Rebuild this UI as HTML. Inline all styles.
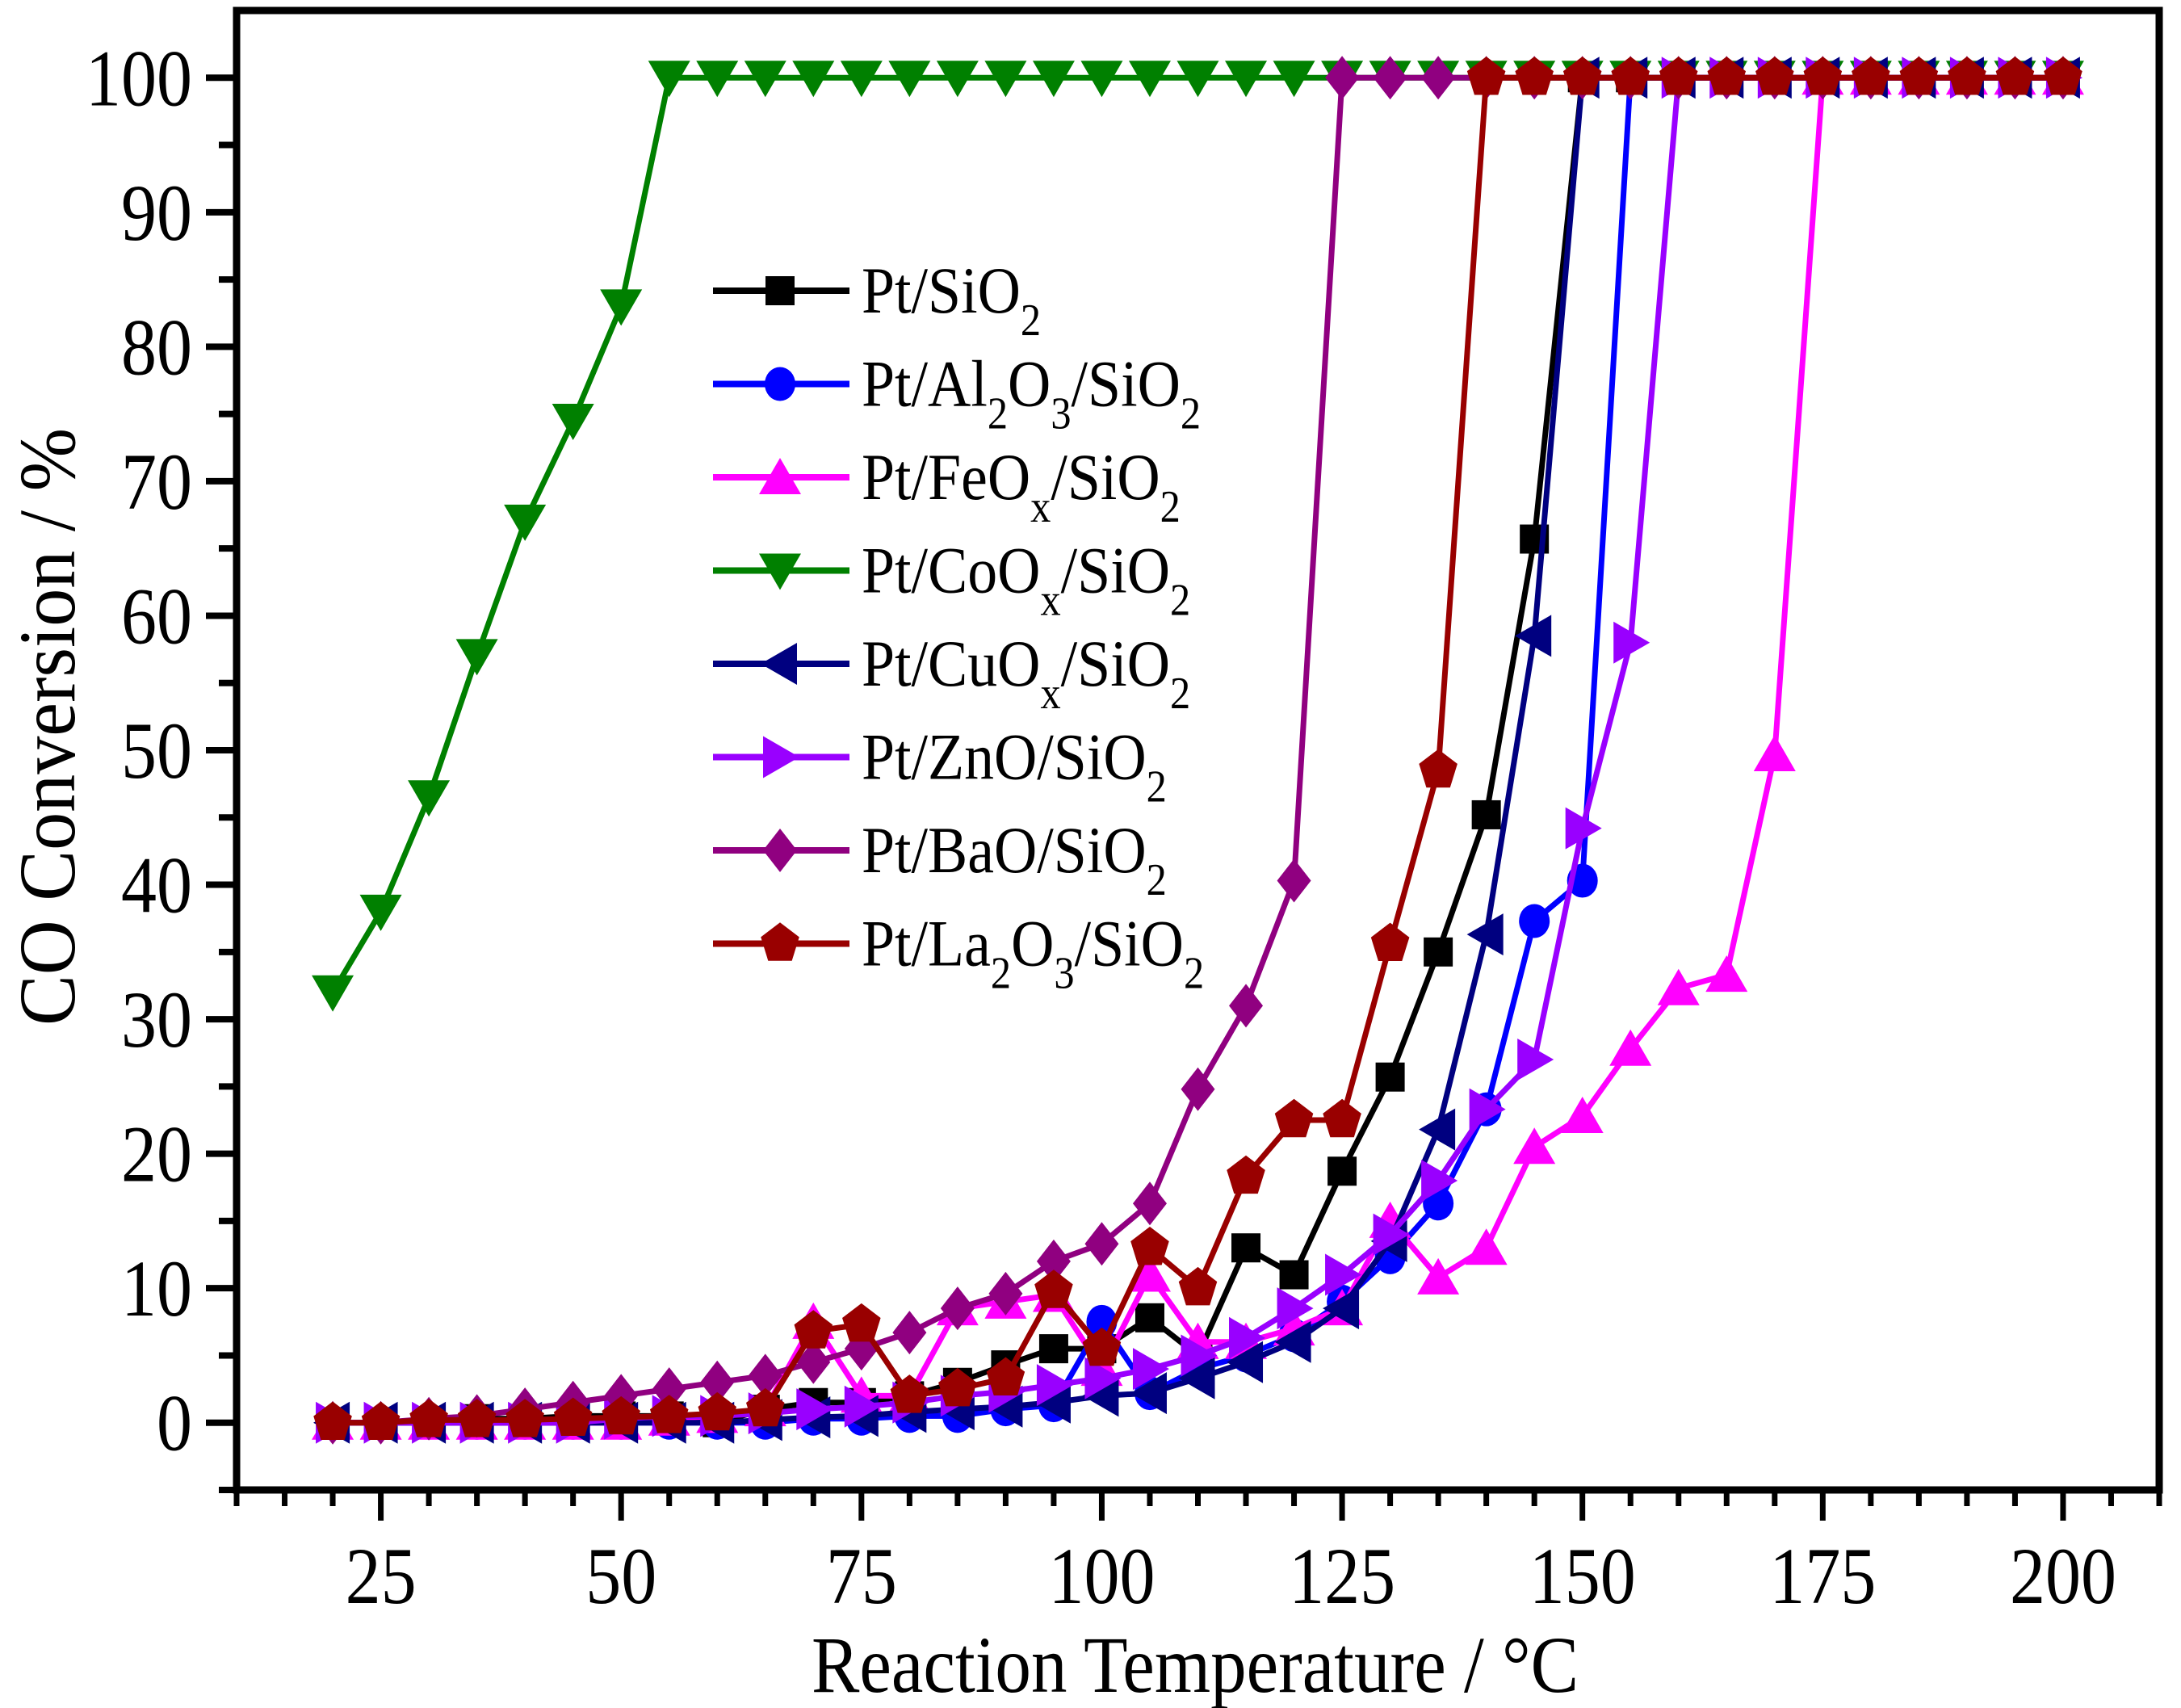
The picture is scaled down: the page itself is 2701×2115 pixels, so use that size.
<!DOCTYPE html>
<html><head><meta charset="utf-8"><style>
html,body{margin:0;padding:0;background:#fff}
svg{display:block}
text{font-family:"Liberation Serif",serif;fill:#000}
</style></head><body>
<svg id="chart" width="2701" height="2115" viewBox="0 0 2701 2115" xmlns="http://www.w3.org/2000/svg">
<g id="plot"></g>
<g id="axes"></g>
<g id="legend"></g>
</svg>
<script>
const temps = [20,25,30,35,40,45,50,55,60,65,70,75,80,85,90,95,100,105,110,115,120,125,130,135,140,145,150,155,160,165,170,175,180,185,190,195,200];
const siO2 =  [0,0,0,0.3,0.3,0.5,0.5,0.5,0,1,1.5,1.5,2,3,4.3,5.5,5.5,7.8,5,13,11,18.7,25.7,35,45.2,65.7,100,100,100,100,100,100,100,100,100,100,100];
const al2o3 = [0,0,0,0,0,0,0,0,0,0,0.3,0.3,0.5,0.5,1,1.3,7.5,2.2,4,5,6.5,9,12.3,16.3,23.3,37.3,40.3,100,100,100,100,100,100,100,100,100,100];
const feOx =  [0,0,0,0,0,0,0,0.3,0.5,1,7.5,2,2,8.5,9,9.5,4,11,6,6,7,8.5,15,10.8,13,20.5,22.8,27.8,32.3,33.3,49.7,100,100,100,100,100,100];
const coOx =  [32,38,46.5,57,67,74.5,83,100,100,100,100,100,100,100,100,100,100,100,100,100,100,100,100,100,100,100,100,100,100,100,100,100,100,100,100,100,100];
const cuOx =  [0,0,0,0,0,0,0,0,0,0.2,0.4,0.5,0.8,1,1.2,1.5,2,2.2,3.3,4.5,6,8.5,13.5,21.8,36.3,58.5,100,100,100,100,100,100,100,100,100,100,100];
const znO =   [0,0,0,0,0,0,0.3,0.5,0.5,0.7,1,1.2,1.5,2,2.3,2.8,3.3,4,5,6.3,8.5,11,14,18,23.3,27,44.2,58,100,100,100,100,100,100,100,100,100];
const baO =   [0,0,0.3,0.5,1,1.5,2,2.5,3,3.5,4.5,5.5,6.7,8.5,9.6,12,13.3,16.3,24.8,31,40.3,100,100,100,100,100,100,100,100,100,100,100,100,100,100,100,100];
const la2o3 = [0,0,0.2,0.2,0.2,0.3,0.4,0.5,0.7,1,6.8,7.3,2,2.5,3.3,9.8,5.5,13,10,18.3,22.5,22.5,35.6,48.5,100,100,100,100,100,100,100,100,100,100,100,100,100];
const xTicks = [25,50,75,100,125,150,175,200];
const yTicks = [0,10,20,30,40,50,60,70,80,90,100];

const NS="http://www.w3.org/2000/svg";
const L=293,R=2674,T=13,B=1845;
const X0=10,X1=210,Y0=-5,Y1=105;
const sx=v=>L+(v-X0)/(X1-X0)*(R-L);
const sy=v=>B-(v-Y0)/(Y1-Y0)*(B-T);
function mk(tag,attrs,parent){const e=document.createElementNS(NS,tag);for(const k in attrs)e.setAttribute(k,attrs[k]);parent.appendChild(e);return e;}

const series=[
 {name:"pt-sio2",vals:siO2,color:"#000000",shape:"square"},
 {name:"pt-al2o3-sio2",vals:al2o3,color:"#0000ff",shape:"circle"},
 {name:"pt-feox-sio2",vals:feOx,color:"#ff00ff",shape:"up"},
 {name:"pt-coox-sio2",vals:coOx,color:"#008000",shape:"down"},
 {name:"pt-cuox-sio2",vals:cuOx,color:"#000080",shape:"left"},
 {name:"pt-zno-sio2",vals:znO,color:"#9900ff",shape:"right"},
 {name:"pt-bao-sio2",vals:baO,color:"#900080",shape:"diamond"},
 {name:"pt-la2o3-sio2",vals:la2o3,color:"#990000",shape:"pentagon"}
];
function marker(shape,cx,cy,color,parent){
  let e;
  if(shape==="square") e=mk("rect",{x:cx-18,y:cy-18,width:36,height:36,fill:color},parent);
  else if(shape==="circle") e=mk("ellipse",{cx:cx,cy:cy,rx:19,ry:21,fill:color},parent);
  else {
    let pts;
    const r=25;
    if(shape==="up") pts=[[0,-24],[26,21],[-26,21]];
    else if(shape==="down") pts=[[0,24],[26,-21],[-26,-21]];
    else if(shape==="left") pts=[[-24,0],[21,-26],[21,26]];
    else if(shape==="right") pts=[[24,0],[-21,-26],[-21,26]];
    else if(shape==="diamond") pts=[[0,-27],[21,0],[0,27],[-21,0]];
    else {pts=[];for(let i=0;i<5;i++){const a=-Math.PI/2+i*2*Math.PI/5;pts.push([r*Math.cos(a),r*Math.sin(a)*1.05]);}}
    e=mk("polygon",{points:pts.map(p=>(cx+p[0])+","+(cy+p[1])).join(" "),fill:color},parent);
  }
  return e;
}
const plot=document.getElementById("plot");
series.forEach(s=>{
  const g=mk("g",{},plot);
  
  
  const line=mk("polyline",{points:temps.map((t,i)=>sx(t)+","+sy(s.vals[i])).join(" "),fill:"none",stroke:s.color,"stroke-width":7,"stroke-linejoin":"round"},g);
  
  
  temps.forEach((t,i)=>{
    const m=marker(s.shape,sx(t),sy(s.vals[i]),s.color,g);
    
    
  });
});

const axes=document.getElementById("axes");
const frame=mk("rect",{x:L,y:T,width:R-L,height:B-T,fill:"none",stroke:"#000","stroke-width":9},axes);


for(let v=X0;v<=X1;v+=5){
  const major=v%25===0;
  const t=mk("line",{x1:sx(v),x2:sx(v),y1:B,y2:B+(major?38:20),stroke:"#000","stroke-width":7},axes);
  
  
}
xTicks.forEach(v=>{
  const t=mk("text",{x:0,y:0,"font-size":100,"text-anchor":"middle",transform:`translate(${sx(v)},${B+140}) scale(0.88,1)`},axes);
  t.textContent=v;
  
  
});
for(let v=Y0;v<=100;v+=5){
  const major=v%10===0;
  const t=mk("line",{x1:L-(major?38:22),x2:L,y1:sy(v),y2:sy(v),stroke:"#000","stroke-width":8},axes);
  
  
}
yTicks.forEach(v=>{
  const t=mk("text",{x:0,y:0,"font-size":100,"text-anchor":"end",transform:`translate(${L-55},${sy(v)+34}) scale(0.88,1)`},axes);
  t.textContent=v;
  
  
});
const xt=mk("text",{x:1480,y:2095,"font-size":100,"text-anchor":"middle",textLength:950,lengthAdjust:"spacingAndGlyphs"},axes);
xt.textContent="Reaction Temperature / °C";


const yt=mk("text",{x:0,y:0,"font-size":100,"text-anchor":"middle",textLength:740,lengthAdjust:"spacingAndGlyphs",transform:"translate(92,900) rotate(-90)"},axes);
yt.textContent="CO Conversion / %";



const legend=document.getElementById("legend");
const labels=[
 [["Pt/SiO",0],["2",1]],
 [["Pt/Al",0],["2",1],["O",0],["3",1],["/SiO",0],["2",1]],
 [["Pt/FeO",0],["x",1],["/SiO",0],["2",1]],
 [["Pt/CoO",0],["x",1],["/SiO",0],["2",1]],
 [["Pt/CuO",0],["x",1],["/SiO",0],["2",1]],
 [["Pt/ZnO/SiO",0],["2",1]],
 [["Pt/BaO/SiO",0],["2",1]],
 [["Pt/La",0],["2",1],["O",0],["3",1],["/SiO",0],["2",1]]
];
series.forEach((s,i)=>{
  const y=360+i*115.5;
  const g=mk("g",{},legend);
  
  
  mk("line",{x1:883,x2:1052,y1:y,y2:y,stroke:s.color,"stroke-width":8},g);
  marker(s.shape,966,y,s.color,g);
  const t=mk("text",{x:0,y:0,"font-size":82,transform:`translate(1067,${y+27}) scale(0.9,1)`},g);
  let sub=false;
  labels[i].forEach(p=>{
    const ts=mk("tspan",{},t);
    if(p[1]){ts.setAttribute("font-size",56);}
    if(p[1]&&!sub){ts.setAttribute("dy",28);sub=true;}
    else if(!p[1]&&sub){ts.setAttribute("dy",-28);sub=false;}
    ts.textContent=p[0];
  });
});
</script>
</body></html>
